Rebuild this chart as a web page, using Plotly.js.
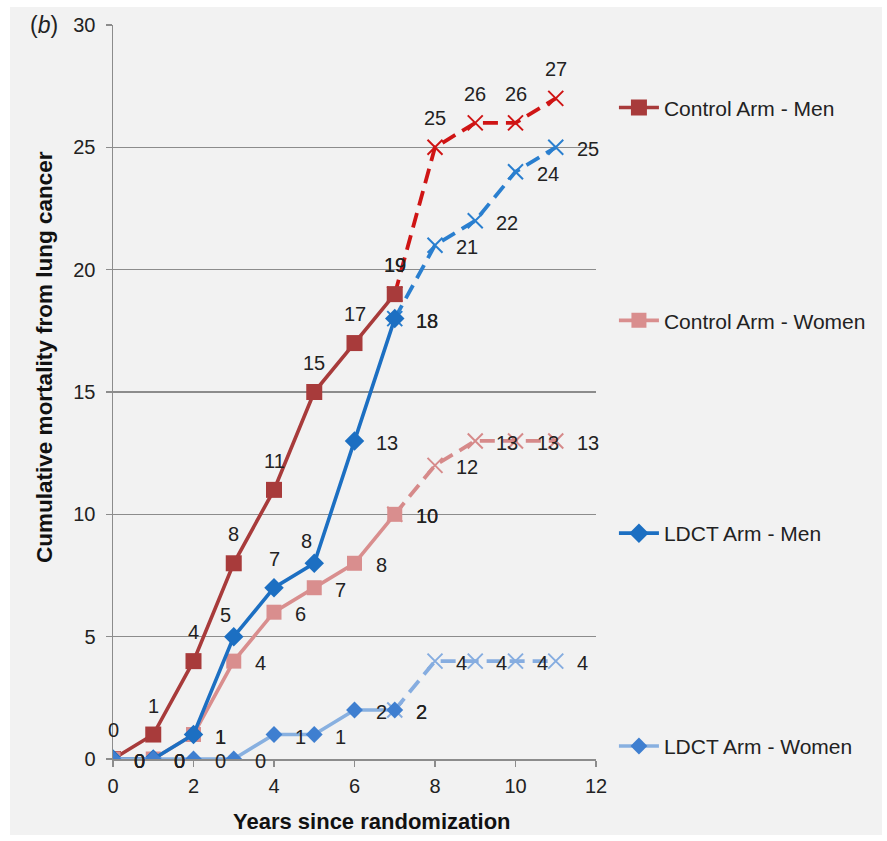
<!DOCTYPE html>
<html>
<head>
<meta charset="utf-8">
<script src="https://cdn.plot.ly/plotly-3.0.1.min.js"></script>
<style>
  html, body { margin: 0; padding: 0; background: #ffffff; }
  #chart { position: absolute; left: 10px; top: 7px; width: 872px; height: 828px; }
</style>
</head>
<body>
<div id="chart"></div>
<script>
// Observed years (solid) and projected years (dashed)
const years = [0, 1, 2, 3, 4, 5, 6, 7];
const yearsExt = [7, 8, 9, 10, 11];

// Cumulative deaths from lung cancer per arm
const controlMen = [0, 1, 4, 8, 11, 15, 17, 19];
const controlMenExt = [19, 25, 26, 26, 27];
const controlWomen = [0, 0, 1, 4, 6, 7, 8, 10];
const controlWomenExt = [10, 12, 13, 13, 13];
const ldctMen = [0, 0, 1, 5, 7, 8, 13, 18];
const ldctMenExt = [18, 21, 22, 24, 25];
const ldctWomen = [0, 0, 0, 0, 1, 1, 2, 2];
const ldctWomenExt = [2, 4, 4, 4, 4];

const seriesNames = ['Control Arm - Men', 'Control Arm - Women', 'LDCT Arm - Men', 'LDCT Arm - Women'];
const xTicks = [0, 2, 4, 6, 8, 10, 12];
const yTicks = [0, 5, 10, 15, 20, 25, 30];

const FONT = '"Liberation Sans", Arial, Helvetica, sans-serif';

const styles = [
  { line: '#a83b3b', marker: '#a83b3b', symbol: 'square', size: 16, width: 3.6, ext: '#cf1515' },
  { line: '#d98e8e', marker: '#d98e8e', symbol: 'square', size: 15, width: 3.6, ext: '#d68a8a' },
  { line: '#1c6fc2', marker: '#1c6fc2', symbol: 'diamond', size: 15, width: 3.6, ext: '#2a7fcf' },
  { line: '#88b0e0', marker: '#3f7fd0', symbol: 'diamond', size: 13, width: 3.6, ext: '#86ade0' }
];

const solid = [controlMen, controlWomen, ldctMen, ldctWomen];
const ext = [controlMenExt, controlWomenExt, ldctMenExt, ldctWomenExt];

// where each value label sits relative to its point
const labelSide = [
  { solid: years.map(() => 'up'), ext: yearsExt.map(() => 'up') },
  { solid: years.map(() => 'right'), ext: yearsExt.map(() => 'right') },
  { solid: ['right', 'right', 'right', 'upleft', 'up', 'upleft', 'right', 'right'], ext: yearsExt.map(() => 'right') },
  { solid: years.map(() => 'right'), ext: yearsExt.map(() => 'right') }
];

const traces = [];
// dashed projections underneath
ext.forEach((ys, i) => {
  traces.push({
    x: yearsExt, y: ys, type: 'scatter', mode: 'lines+markers',
    showlegend: false, hoverinfo: 'skip',
    line: { color: styles[i].ext, width: 3.8, dash: '15px,8px' },
    marker: { symbol: 'x-thin-open', size: 15, color: styles[i].ext, line: { color: styles[i].ext, width: 2 } }
  });
});
solid.forEach((ys, i) => {
  traces.push({
    x: years, y: ys, type: 'scatter', mode: 'lines+markers',
    name: seriesNames[i], legendgroup: 'g' + i,
    line: { color: styles[i].line, width: styles[i].width },
    marker: { symbol: styles[i].symbol, size: styles[i].size, color: styles[i].marker }
  });
});

function placeLabel(x, y, side) {
  const a = {
    x: x, y: y, xref: 'x', yref: 'y', text: String(y), showarrow: false,
    font: { family: FONT, size: 20, color: '#222222' }
  };
  if (side === 'up') { a.xanchor = 'center'; a.yanchor = 'middle'; a.yshift = 29; }
  else if (side === 'upleft') { a.xanchor = 'center'; a.yanchor = 'middle'; a.yshift = 22; a.xshift = -8; }
  else { a.xanchor = 'left'; a.yanchor = 'middle'; a.xshift = 19; a.yshift = -2; }
  return a;
}

const annotations = [];
solid.forEach((ys, i) => {
  ys.forEach((v, k) => annotations.push(placeLabel(years[k], v, labelSide[i].solid[k])));
  ext[i].forEach((v, k) => annotations.push(placeLabel(yearsExt[k], v, labelSide[i].ext[k])));
});

annotations.push({
  xref: 'paper', yref: 'paper', x: -0.1405, y: 0.548, text: 'Cumulative mortality from lung cancer',
  textangle: -90, showarrow: false, xanchor: 'center', yanchor: 'middle',
  font: { family: FONT, size: 22.5, color: '#111111', weight: 'bold' }
});
annotations.push({
  xref: 'paper', yref: 'paper', x: 0.537, y: -0.0858, text: 'Years since randomization',
  showarrow: false, xanchor: 'center', yanchor: 'middle',
  font: { family: FONT, size: 22, color: '#111111', weight: 'bold' }
});
annotations.push({
  xref: 'paper', yref: 'paper', x: -0.143, y: 1.0, text: '(<i>b</i>)',
  showarrow: false, xanchor: 'center', yanchor: 'middle',
  font: { family: FONT, size: 23, color: '#222222' }
});

const layout = {
  width: 872, height: 828,
  margin: { l: 103, r: 285, t: 18, b: 76 },
  paper_bgcolor: '#f2f2f2', plot_bgcolor: '#f2f2f2',
  font: { family: FONT, size: 20, color: '#222222' },
  showlegend: true,
  legend: {
    x: 1.035, y: 0.915, xanchor: 'left', yanchor: 'top',
    bgcolor: 'rgba(0,0,0,0)', traceorder: 'grouped', tracegroupgap: 182.5,
    font: { family: FONT, size: 21, color: '#222222' }, itemwidth: 40
  },
  xaxis: {
    range: [0, 12], tickvals: xTicks, ticktext: xTicks.map(String),
    showgrid: false, zeroline: false, showline: true, linecolor: '#8c8c8c', linewidth: 1.5,
    ticks: 'outside', ticklen: 6, tickcolor: '#8c8c8c', tickwidth: 1.5, ticklabelstandoff: 2,
    tickfont: { family: FONT, size: 20, color: '#222222' }, fixedrange: true
  },
  yaxis: {
    range: [0, 30], tickvals: yTicks, ticktext: yTicks.map(String),
    showgrid: true, gridcolor: '#8c8c8c', gridwidth: 1.2,
    zeroline: false, showline: true, linecolor: '#8c8c8c', linewidth: 1.5,
    ticks: 'outside', ticklen: 6, tickcolor: '#8c8c8c', tickwidth: 1.5, ticklabelstandoff: 6,
    tickfont: { family: FONT, size: 20, color: '#222222' }, fixedrange: true
  },
  annotations: annotations
};

Plotly.newPlot('chart', traces, layout, { displayModeBar: false, staticPlot: true });
</script>
</body>
</html>
